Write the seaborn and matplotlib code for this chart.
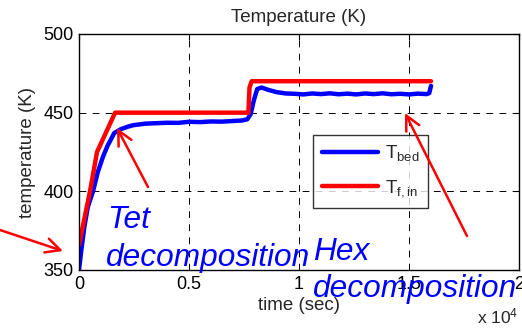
import matplotlib
matplotlib.use("Agg")
import matplotlib.pyplot as plt
import seaborn as sns
import pandas as pd

# Bed temperature history (s, K)
t_bed = [0, 100, 250, 400, 636, 850, 1090, 1300, 1600, 1900, 2200, 2450, 3000,
         3500, 4000, 4500, 5000, 5500, 6000, 6500, 7000, 7400, 7650, 7800, 7950,
         8100, 8300, 8600, 9000, 9400, 9800, 10200, 10600, 11000, 11400, 11800,
         12200, 12600, 13000, 13400, 13800, 14200, 14600, 15000, 15400, 15800,
         15920, 16000]
T_bed = [350, 362, 378, 390, 400, 412, 422, 429, 437, 439.5, 441, 442, 443,
         443.3, 443.6, 443.5, 444.2, 444.0, 444.4, 444.3, 444.7, 445.0, 445.8,
         449, 458, 465, 466, 464.5, 463, 462.2, 462.0, 461.6, 462.2, 461.8,
         462.3, 461.7, 462.1, 461.6, 462.2, 461.8, 462.3, 461.7, 462.0, 461.6,
         462.1, 461.8, 462.4, 467]

# Feed inlet temperature schedule (s, K)
t_fin = [0, 500, 820, 1640, 7700, 7750, 7850, 16000]
T_fin = [366, 400, 425, 450, 450, 466, 470, 470]

x_ticks = [0, 5000, 10000, 15000, 20000]
x_tick_labels = ["0", "0.5", "1", "1.5", "2"]
y_ticks = [350, 400, 450, 500]

sns.set_style("white")
plt.rcParams["font.family"] = ["Liberation Sans", "DejaVu Sans"]
plt.rcParams["mathtext.fontset"] = "custom"
plt.rcParams["mathtext.rm"] = "Liberation Sans"
plt.rcParams["mathtext.it"] = "Liberation Sans:italic"

W, H = 522, 328
fig = plt.figure(figsize=(W / 100, H / 100), dpi=100)
ax = fig.add_axes([79 / W, 1 - 270 / H, 440 / W, 236 / H])

bed = pd.DataFrame({"time": t_bed, "temp": T_bed})
fin = pd.DataFrame({"time": t_fin, "temp": T_fin})
sns.lineplot(data=bed, x="time", y="temp", ax=ax, color="#0000ff", lw=3.2,
             estimator=None, sort=False, label=r"T$_{\mathrm{bed}}$")
sns.lineplot(data=fin, x="time", y="temp", ax=ax, color="#ff0000", lw=3.2,
             estimator=None, sort=False, label=r"T$_{\mathrm{f,in}}$")

ax.set_xlim(0, 20000)
ax.set_ylim(350, 500)
ax.set_xticks(x_ticks)
ax.set_xticklabels(x_tick_labels)
ax.set_yticks(y_ticks)
ax.tick_params(direction="in", top=True, right=True, length=4, width=0.8,
               labelsize=13, colors="black", pad=4)
ax.grid(True, color="black", linestyle=(0, (7, 6.5)), linewidth=0.7)
for s in ax.spines.values():
    s.set_color("black")
    s.set_linewidth(1.0)

ax.set_title("Temperature (K)", fontsize=13.5, pad=9)
ax.set_xlabel("time (sec)", fontsize=13.5, labelpad=3)
ax.set_ylabel("temperature (K)", fontsize=13.5, labelpad=5)

leg = ax.legend(loc="upper left", bbox_to_anchor=(0.532, 0.572), fontsize=13.5,
                frameon=True, fancybox=False, edgecolor="black",
                handlelength=3.0, labelspacing=0.8, borderpad=0.45,
                handletextpad=0.4, borderaxespad=0)
leg.get_frame().set_linewidth(1.0)

# exponent of the time axis
fig.text(477 / W, 1 - 323 / H, r"x 10$^{4}$", fontsize=12.5, ha="left",
         va="baseline")

# decomposition stages
blue_txt = dict(color="#0000ff", fontsize=22.8, style="italic", ha="left",
                va="baseline")
fig.text(107 / W, 1 - 228 / H, "Tet", **blue_txt)
fig.text(106 / W, 1 - 266 / H, "decomposition", **blue_txt)
fig.text(313 / W, 1 - 260 / H, "Hex", **blue_txt)
fig.text(313 / W, 1 - 297 / H, "decomposition", **blue_txt)

arrow_kw = dict(arrowstyle="->", color="#ff0000", lw=1.8, mutation_scale=26,
                shrinkA=0, shrinkB=0)
for (x0, y0), (x1, y1) in [((0, 230), (63, 251)),
                           ((148, 187), (117, 128)),
                           ((467, 236), (405, 113))]:
    fig.add_artist(matplotlib.patches.FancyArrowPatch(
        (x0 / W, 1 - y0 / H), (x1 / W, 1 - y1 / H),
        transform=fig.transFigure, **arrow_kw))

fig.savefig("out.png", dpi=100)
